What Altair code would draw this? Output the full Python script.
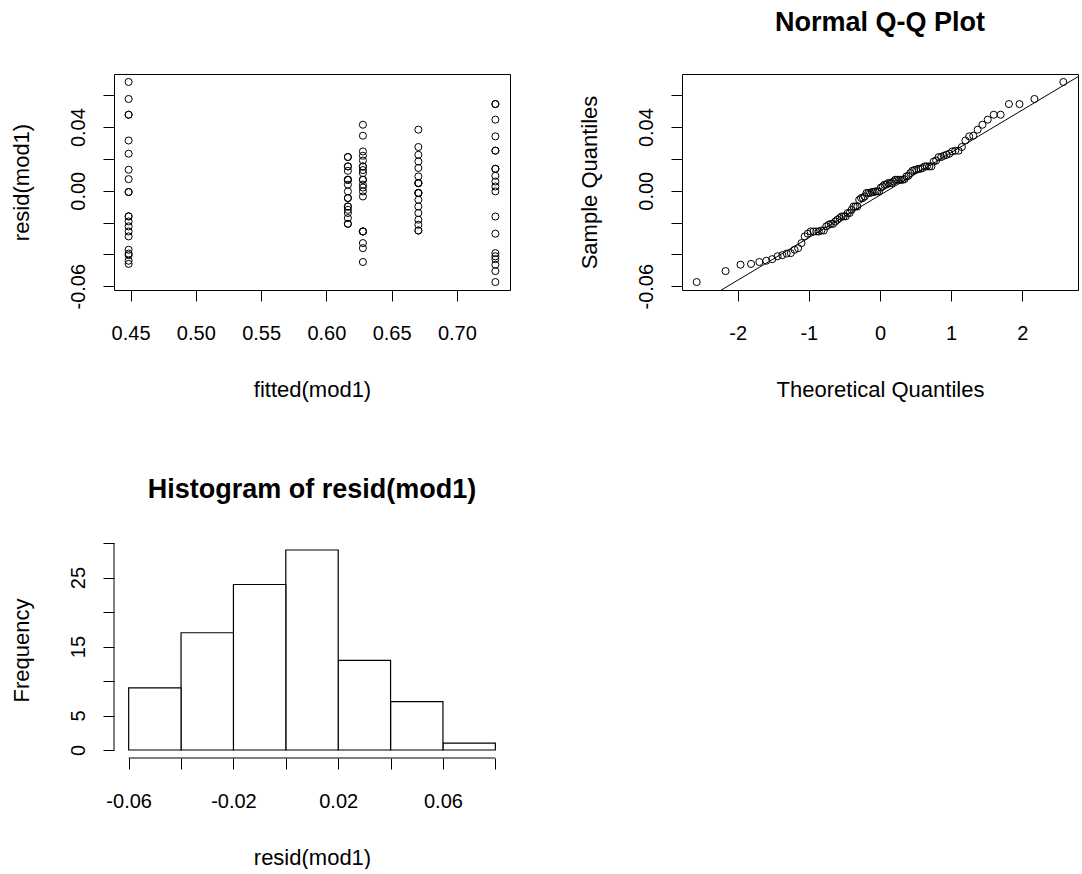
import altair as alt
import pandas as pd

# ---------------- data ----------------
fitted_levels = [0.4485, 0.6165, 0.6280, 0.6705, 0.7295]

resid_g1 = [0.0684, 0.0577, 0.0478, 0.0478, 0.0316, 0.0233, 0.0132, 0.0073,
            -0.0008, -0.0008, -0.0161, -0.0161, -0.0193, -0.0224, -0.0256,
            -0.0287, -0.0371, -0.0395, -0.0405, -0.0440, -0.0460]
resid_g2 = [0.0212, 0.0212, 0.0153, 0.0153, 0.0125, 0.0069, 0.0069, 0.0069,
            0.0038, -0.0004, -0.0046, -0.0046, -0.0099, -0.0099, -0.0120,
            -0.0140, -0.0172, -0.0208, -0.0208]
resid_g3 = [0.0415, 0.0346, 0.0247, 0.0220, 0.0190, 0.0153, 0.0153, 0.0130,
            0.0111, 0.0069, 0.0069, 0.0038, 0.0020, -0.0004, -0.0036,
            -0.0256, -0.0256, -0.0256, -0.0329, -0.0361, -0.0448]
resid_g4 = [0.0384, 0.0275, 0.0226, 0.0184, 0.0143, 0.0090, 0.0048, 0.0048,
            0.0048, -0.0014, -0.0014, -0.0014, -0.0057, -0.0099, -0.0140,
            -0.0182, -0.0214, -0.0250, -0.0250]
resid_g5 = [0.0545, 0.0545, 0.0447, 0.0342, 0.0252, 0.0252, 0.0138, 0.0138,
            0.0094, 0.0058, 0.0027, -0.0004, -0.0162, -0.0270, -0.0392,
            -0.0412, -0.0430, -0.0465, -0.0505, -0.0574]

groups = [resid_g1, resid_g2, resid_g3, resid_g4, resid_g5]

resid_ticks = [-0.06, -0.04, -0.02, 0.0, 0.02, 0.04, 0.06]
resid_tick_labels = [-0.06, 0.0, 0.04]
fitted_ticks = [0.45, 0.50, 0.55, 0.60, 0.65, 0.70]
theo_ticks = [-2, -1, 0, 1, 2]
hist_breaks = [-0.06, 0.08]
hist_x_ticks = [-0.06, -0.04, -0.02, 0.0, 0.02, 0.04, 0.06, 0.08]
hist_x_labels = [-0.06, -0.02, 0.02, 0.06]
freq_ticks = [0, 5, 10, 15, 20, 25, 30]
freq_labels = [0, 5, 15, 25]

rows = []
for f, g in zip(fitted_levels, groups):
    for r in g:
        rows.append({"fitted": f, "resid": r})
df = pd.DataFrame(rows)

# ---------------- style ----------------
FONT = "Liberation Sans"
LAB = 20
TIT = 22
MAIN = 27
W, H = 396, 216
TICK = 11


def label_expr(label_vals, fmt):
    fmt_part = f"replace(format(datum.value, '{fmt}'), '\u2212', '-')"
    if label_vals is None:
        return fmt_part
    cond = " || ".join(f"abs(datum.value - ({v})) < 1e-9" for v in label_vals)
    return f"({cond}) ? {fmt_part} : ''"


def axis_x(values, title, label_vals=None, fmt=".2f"):
    return alt.Axis(values=values, title=title, domain=False,
                    ticks=True, tickSize=TICK, tickColor="black", tickWidth=1,
                    grid=False, labelFont=FONT, labelFontSize=LAB,
                    labelColor="black", labelPadding=22, labelFlush=False,
                    labelOverlap=False, labelExpr=label_expr(label_vals, fmt),
                    titleFont=FONT, titleFontSize=TIT,
                    titleFontWeight="normal", titleColor="black",
                    titlePadding=36)


def axis_y(values, title, label_vals=None, fmt=".2f"):
    return alt.Axis(values=values, title=title, domain=False,
                    ticks=True, tickSize=TICK, tickColor="black", tickWidth=1,
                    grid=False, labelFont=FONT, labelFontSize=LAB,
                    labelColor="black", labelAngle=270, labelAlign="center",
                    labelBaseline="bottom", labelPadding=15, labelFlush=False,
                    labelOverlap=False, labelExpr=label_expr(label_vals, fmt),
                    titleFont=FONT, titleFontSize=TIT,
                    titleFontWeight="normal", titleColor="black",
                    titlePadding=35)


y_resid_scale = alt.Scale(domain=[-0.0624, 0.0734], nice=False, zero=False)
pt_kw = dict(shape="circle", filled=False, stroke="black", strokeWidth=1,
             size=50, opacity=1)

# ---------------- panel 1: residuals vs fitted ----------------
p1 = alt.Chart(df).mark_point(**pt_kw).encode(
    x=alt.X("fitted:Q", scale=alt.Scale(domain=[0.4373, 0.7407], nice=False, zero=False),
            axis=axis_x(fitted_ticks, "fitted(mod1)")),
    y=alt.Y("resid:Q", scale=y_resid_scale,
            axis=axis_y(resid_ticks, "resid(mod1)", resid_tick_labels)),
).properties(width=W, height=H)

# ---------------- panel 2: normal Q-Q ----------------
qq_x_scale = alt.Scale(domain=[-2.782, 2.782], nice=False, zero=False)
qq_x_axis = axis_x(theo_ticks, "Theoretical Quantiles", fmt="d")
qq_y_axis = axis_y(resid_ticks, "Sample Quantiles", resid_tick_labels)

qq_pts = alt.Chart(df).transform_window(
    rank="row_number()", sort=[alt.SortField("resid", order="ascending")]
).transform_joinaggregate(n="count()").transform_calculate(
    theo="quantileNormal((datum.rank - 0.5) / datum.n)"
).mark_point(**pt_kw).encode(
    x=alt.X("theo:Q", scale=qq_x_scale, axis=qq_x_axis),
    y=alt.Y("resid:Q", scale=y_resid_scale, axis=qq_y_axis),
)
qq_line = alt.Chart(df).transform_aggregate(
    q1="q1(resid)", q3="q3(resid)"
).transform_calculate(
    slope="(datum.q3 - datum.q1) / (quantileNormal(0.75) - quantileNormal(0.25))"
).transform_calculate(
    icpt="datum.q1 - datum.slope * quantileNormal(0.25)",
    xa="-3", xb="3"
).transform_calculate(
    ya="datum.icpt + datum.slope * datum.xa",
    yb="datum.icpt + datum.slope * datum.xb",
).mark_rule(color="black", strokeWidth=1, clip=True).encode(
    x=alt.X("xa:Q", scale=qq_x_scale, axis=qq_x_axis), x2="xb:Q",
    y=alt.Y("ya:Q", scale=y_resid_scale, axis=qq_y_axis), y2="yb:Q",
)
p2 = alt.layer(qq_pts, qq_line).properties(
    width=W, height=H,
    title=alt.TitleParams("Normal Q-Q Plot", font=FONT, fontSize=MAIN,
                          fontWeight="bold", color="black", anchor="middle",
                          baseline="alphabetic", offset=16, frame="group"),
)

# ---------------- panel 3: histogram ----------------
hx_scale = alt.Scale(domain=[-0.0656, 0.0856], nice=False, zero=False)
hy_scale = alt.Scale(domain=[-1.16, 30.16], nice=False, zero=False)
hx_axis = axis_x(hist_x_ticks, "resid(mod1)", hist_x_labels)
hy_axis = axis_y(freq_ticks, "Frequency", freq_labels, fmt="d")

hist_bars = alt.Chart(df).transform_bin(
    "b0", "resid", bin=alt.Bin(extent=hist_breaks, step=0.02)
).transform_aggregate(
    count="count()", groupby=["b0", "b0_end"]
).transform_calculate(base="0").mark_bar(
    fill="white", stroke="black", strokeWidth=1.2, binSpacing=0
).encode(
    x=alt.X("b0:Q", scale=hx_scale, axis=hx_axis),
    x2="b0_end:Q",
    y=alt.Y("count:Q", scale=hy_scale, axis=hy_axis),
    y2="base:Q",
)
axis_lines = pd.DataFrame({"x0": [hist_x_ticks[0]], "x1": [hist_x_ticks[-1]],
                           "y0": [freq_ticks[0]], "y1": [freq_ticks[-1]]})
hx_line = alt.Chart(axis_lines).mark_rule(color="black", strokeWidth=1).encode(
    x=alt.X("x0:Q", scale=hx_scale, axis=hx_axis), x2="x1:Q", y=alt.value(H)
)
hy_line = alt.Chart(axis_lines).mark_rule(color="black", strokeWidth=1).encode(
    y=alt.Y("y0:Q", scale=hy_scale, axis=hy_axis), y2="y1:Q", x=alt.value(0)
)
p3 = alt.layer(hist_bars, hx_line, hy_line).properties(
    width=W, height=H,
    view=alt.ViewBackground(stroke="transparent"),
    title=alt.TitleParams("Histogram of resid(mod1)", font=FONT, fontSize=MAIN,
                          fontWeight="bold", color="black", anchor="middle",
                          baseline="alphabetic", offset=17, frame="group"),
)

chart = alt.concat(p1, p2, p3, columns=2, bounds="flush",
                   spacing={"row": 252, "column": 172}).properties(
    padding={"left": 9, "top": 8, "right": 0, "bottom": 0},
    background="white",
).configure_view(stroke="black", strokeWidth=1)

chart.save("out.html", embed_options={"renderer": "svg", "actions": False})
